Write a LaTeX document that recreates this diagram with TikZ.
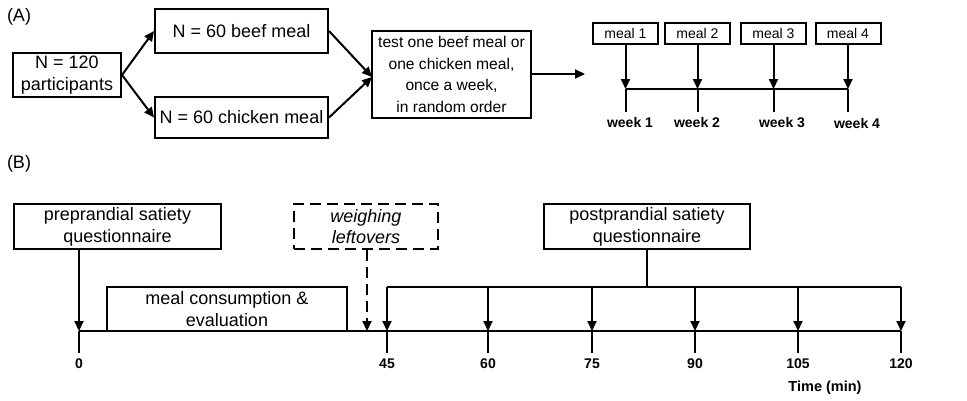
\documentclass[tikz,border=0pt]{standalone}
\usepackage{fontspec}
\setmainfont{Liberation Sans}
\usetikzlibrary{arrows.meta}
\begin{document}
\begin{tikzpicture}[x=1pt,y=-1pt,
  box/.style={draw,line width=2pt,inner sep=0pt,align=center,font=\fontsize{18}{21.7}\selectfont},
  mealbox/.style={box,font=\fontsize{14}{16}\selectfont,minimum width=65pt,minimum height=21pt},
  lab/.style={font=\bfseries\fontsize{14}{16}\selectfont,inner sep=0pt},
  plab/.style={font=\fontsize{18}{21}\selectfont,inner sep=0pt},
  arr/.style={line width=2pt,-{Triangle[length=10pt,width=9pt]}},
  darr/.style={arr,dash pattern=on 11pt off 6pt},
  ln/.style={line width=2pt}]
\useasboundingbox (0,0) rectangle (967,400);

% ---------- (A) ----------
\node[plab] (labA) at (19,17) {(A)};
\node[box,minimum width=108pt,minimum height=44pt] (n120) at (67,75) {N = 120\\participants};
\node[box,minimum width=173pt,minimum height=44pt] (beef) at (241.5,31) {N = 60 beef meal};
\node[box,minimum width=173pt,minimum height=41pt] (chick) at (241.5,117.5) {N = 60 chicken meal};
\node[box,font=\fontsize{15.6}{21.7}\selectfont,minimum width=159pt,minimum height=87pt] (test) at (451.5,74.5)
  {test one beef meal or\\one chicken meal,\\once a week,\\in random order};
\coordinate (testin) at (372,77);
\coordinate (aend) at (585,74);

\draw[arr] (n120.east) -- (beef.west);
\draw[arr] (n120.east) -- (chick.west);
\draw[arr] (beef.east) -- (testin);
\draw[arr] (chick.east) -- (testin);
\draw[arr] (test.east |- aend) -- (aend);

\node[mealbox] (m1) at (625.5,33.5) {meal 1};
\node[mealbox] (m2) at (697.5,33.5) {meal 2};
\node[mealbox] (m3) at (773.5,33.5) {meal 3};
\node[mealbox] (m4) at (848,33.5) {meal 4};

\coordinate (w1) at (625.5,89);
\coordinate (w2) at (697.5,89);
\coordinate (w3) at (773.5,89);
\coordinate (w4) at (848,89);
\draw[ln] (w1) -- (w4);
\foreach \i in {1,2,3,4}{
  \draw[arr] (m\i.south) -- (w\i);
  \draw[ln] (w\i) -- ++(0,23);
}
\node[lab] (wk1) at (630,122) {week 1};
\node[lab] (wk2) at (697,122) {week 2};
\node[lab] (wk3) at (782,123) {week 3};
\node[lab] (wk4) at (857,123) {week 4};

% ---------- (B) ----------
\node[plab] (labB) at (19,164) {(B)};
\node[box,minimum width=207pt,minimum height=45pt] (pre) at (117.5,226.5) {preprandial satiety\\questionnaire};
\node[box,dash pattern=on 11pt off 6pt,font=\itshape\fontsize{18}{21.7}\selectfont,minimum width=144pt,minimum height=45pt] (weigh) at (366,226.5) {weighing\\leftovers};
\node[box,minimum width=206pt,minimum height=45pt] (post) at (647,226.5) {postprandial satiety\\questionnaire};
\node[box,minimum width=240pt,minimum height=44pt] (cons) at (227,309) {meal consumption \&\\evaluation};

\coordinate (t0) at (79,331);
\coordinate (tw) at (367,331);
\coordinate (t45) at (387,331);
\coordinate (t60) at (488,331);
\coordinate (t75) at (592,331);
\coordinate (t90) at (695,331);
\coordinate (t105) at (798,331);
\coordinate (t120) at (901,331);
\draw[ln] (t0) -- (t120);
\foreach \t in {0,45,60,75,90,105,120}{
  \draw[ln] (t\t) -- ++(0,22);
  \node[lab] (l\t) at ([yshift=-33pt]t\t) {\t};
}
\draw[arr] (pre.south -| t0) -- (t0);
\draw[darr] (weigh.south -| tw) -- (tw);

\coordinate (br) at (647,287);
\draw[ln] (post.south) -- (br);
\draw[ln] (t45 |- br) -- (t120 |- br);
\foreach \t in {45,60,75,90,105,120}{
  \draw[arr] (t\t |- br) -- (t\t);
}
\node[lab,font=\bfseries\fontsize{14.5}{16}\selectfont] (tmin) at (825,388) {Time (min)};
\end{tikzpicture}
\end{document}
